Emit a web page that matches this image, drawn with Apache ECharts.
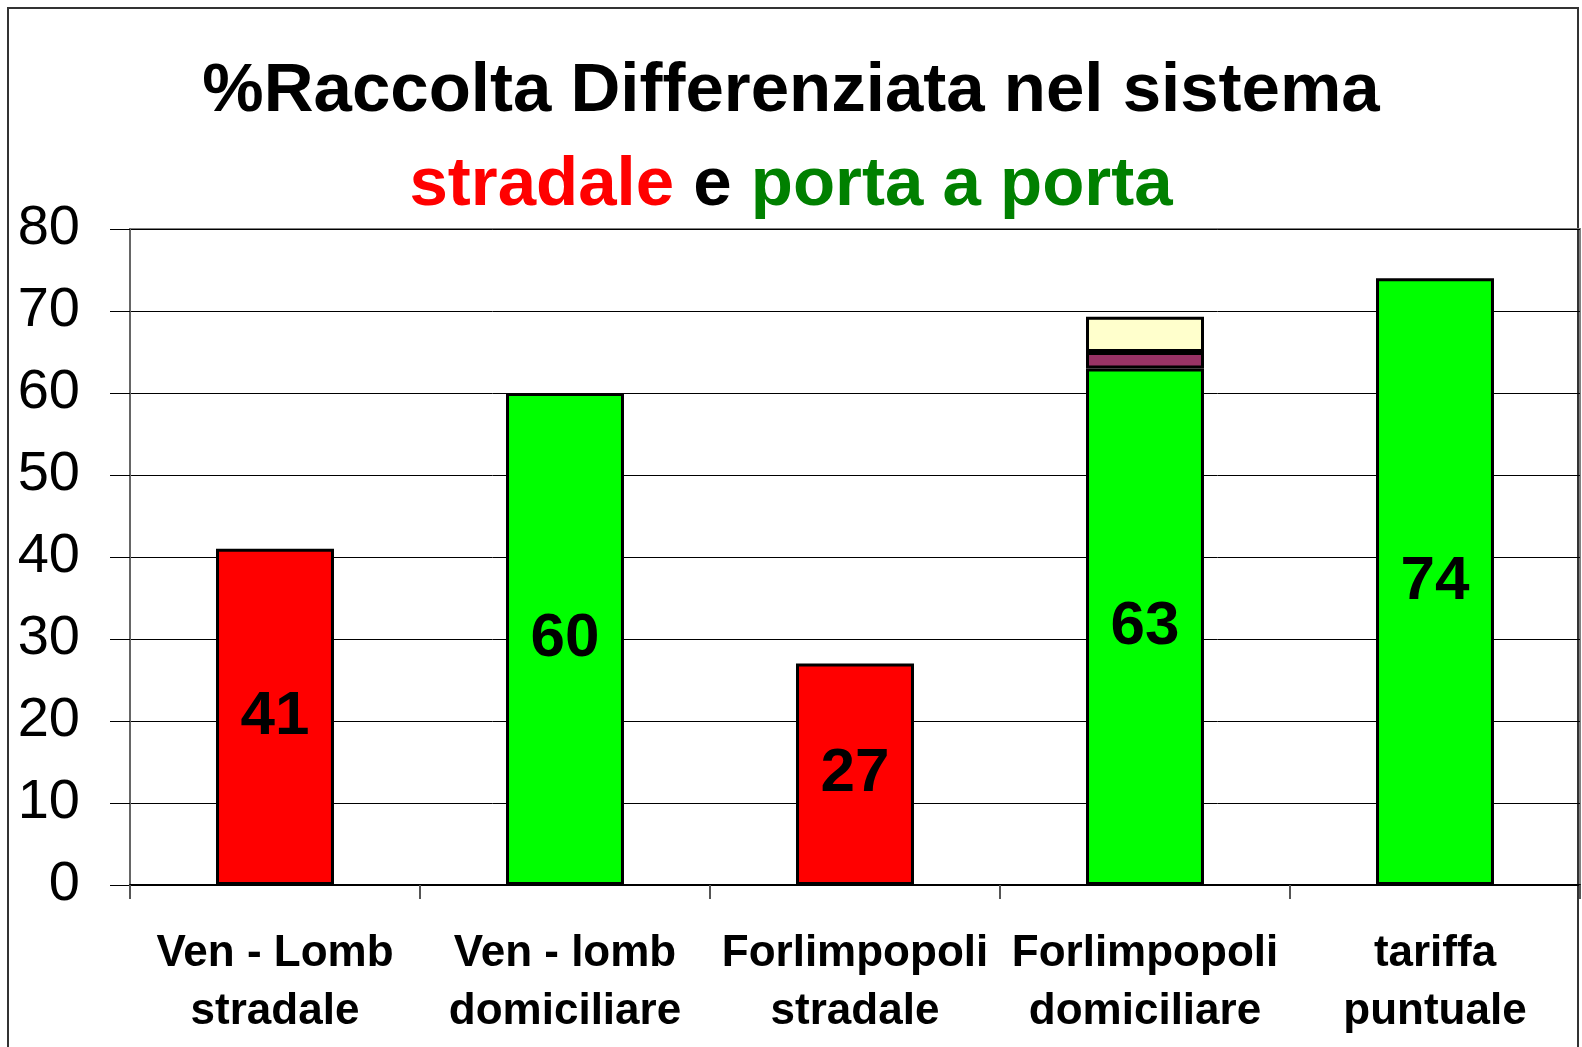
<!DOCTYPE html>
<html>
<head>
<meta charset="utf-8">
<script src="https://cdn.jsdelivr.net/npm/echarts@6/dist/echarts.min.js"></script>
<style>
  html, body { margin: 0; padding: 0; background: #fff; }
  #chart1 { width: 1582px; height: 1047px; }
</style>
</head>
<body>
<div id="chart1"></div>
<script>
const categorie = ['Ven - Lomb\nstradale', 'Ven - lomb\ndomiciliare', 'Forlimpopoli\nstradale', 'Forlimpopoli\ndomiciliare', 'tariffa\npuntuale'];
const stradale = [41, '-', 27, '-', '-'];
const portaAPorta = ['-', 60, '-', 63, 74];
const quotaViola = ['-', '-', '-', 2, '-'];
const quotaCrema = ['-', '-', '-', 4.3, '-'];

const font = '"Liberation Sans", Arial, sans-serif';

const etichetta = {
  show: true,
  position: 'inside',
  color: '#000',
  fontFamily: font,
  fontWeight: 'bold',
  fontSize: 62
};

const bordo = { borderColor: '#000', borderWidth: 3 };

const titolo = (colore) => ({ fontFamily: font, fontWeight: 'bold', fontSize: 69, lineHeight: 94, color: colore });

const chart1 = echarts.init(document.getElementById('chart1'));

const option = {
  animation: false,
  backgroundColor: '#fff',
  graphic: [{
    type: 'rect',
    shape: { x: 8, y: 8, width: 1570, height: 1100 },
    style: { fill: 'none', stroke: '#333', lineWidth: 2 },
    z: -1
  }],
  title: {
    text: '{a|%Raccolta Differenziata nel sistema}\n{r|stradale}{k|\u00a0e\u00a0}{g|porta a porta}',
    left: 'center',
    top: 45,
    padding: 0,
    textStyle: {
      rich: {
        a: titolo('#000'),
        r: titolo('#ff0000'),
        k: titolo('#000'),
        g: titolo('#008000')
      }
    }
  },
  grid: {
    left: 130,
    right: 2,
    top: 229,
    bottom: 162,
    show: true,
    borderColor: '#808080',
    borderWidth: 2
  },
  xAxis: {
    type: 'category',
    data: categorie,
    axisLine: { lineStyle: { color: '#000', width: 2 } },
    axisTick: { show: true, length: 14, lineStyle: { color: '#555', width: 2 } },
    axisLabel: {
      margin: 40,
      fontFamily: font,
      fontWeight: 'bold',
      fontSize: 44,
      lineHeight: 58,
      color: '#000',
      interval: 0
    }
  },
  yAxis: {
    type: 'value',
    min: 0,
    max: 80,
    interval: 10,
    axisLine: { show: true, lineStyle: { color: '#666', width: 2 } },
    axisTick: { show: true, length: 20, lineStyle: { color: '#000', width: 1 } },
    axisLabel: {
      margin: 50,
      fontFamily: font,
      fontSize: 56,
      color: '#000'
    },
    splitLine: { lineStyle: { color: '#000', width: 1 } }
  },
  series: [
    {
      name: 'stradale',
      type: 'bar',
      stack: 'tot',
      barWidth: 118,
      data: stradale,
      itemStyle: Object.assign({ color: '#ff0000' }, bordo),
      label: etichetta
    },
    {
      name: 'porta a porta',
      type: 'bar',
      stack: 'tot',
      barWidth: 118,
      data: portaAPorta,
      itemStyle: Object.assign({ color: '#00ff00' }, bordo),
      label: etichetta
    },
    {
      name: 'viola',
      type: 'bar',
      stack: 'tot',
      barWidth: 118,
      data: quotaViola,
      itemStyle: Object.assign({ color: '#993366' }, bordo)
    },
    {
      name: 'crema',
      type: 'bar',
      stack: 'tot',
      barWidth: 118,
      data: quotaCrema,
      itemStyle: Object.assign({ color: '#ffffcc' }, bordo)
    }
  ]
};

chart1.setOption(option);
</script>
</body>
</html>
